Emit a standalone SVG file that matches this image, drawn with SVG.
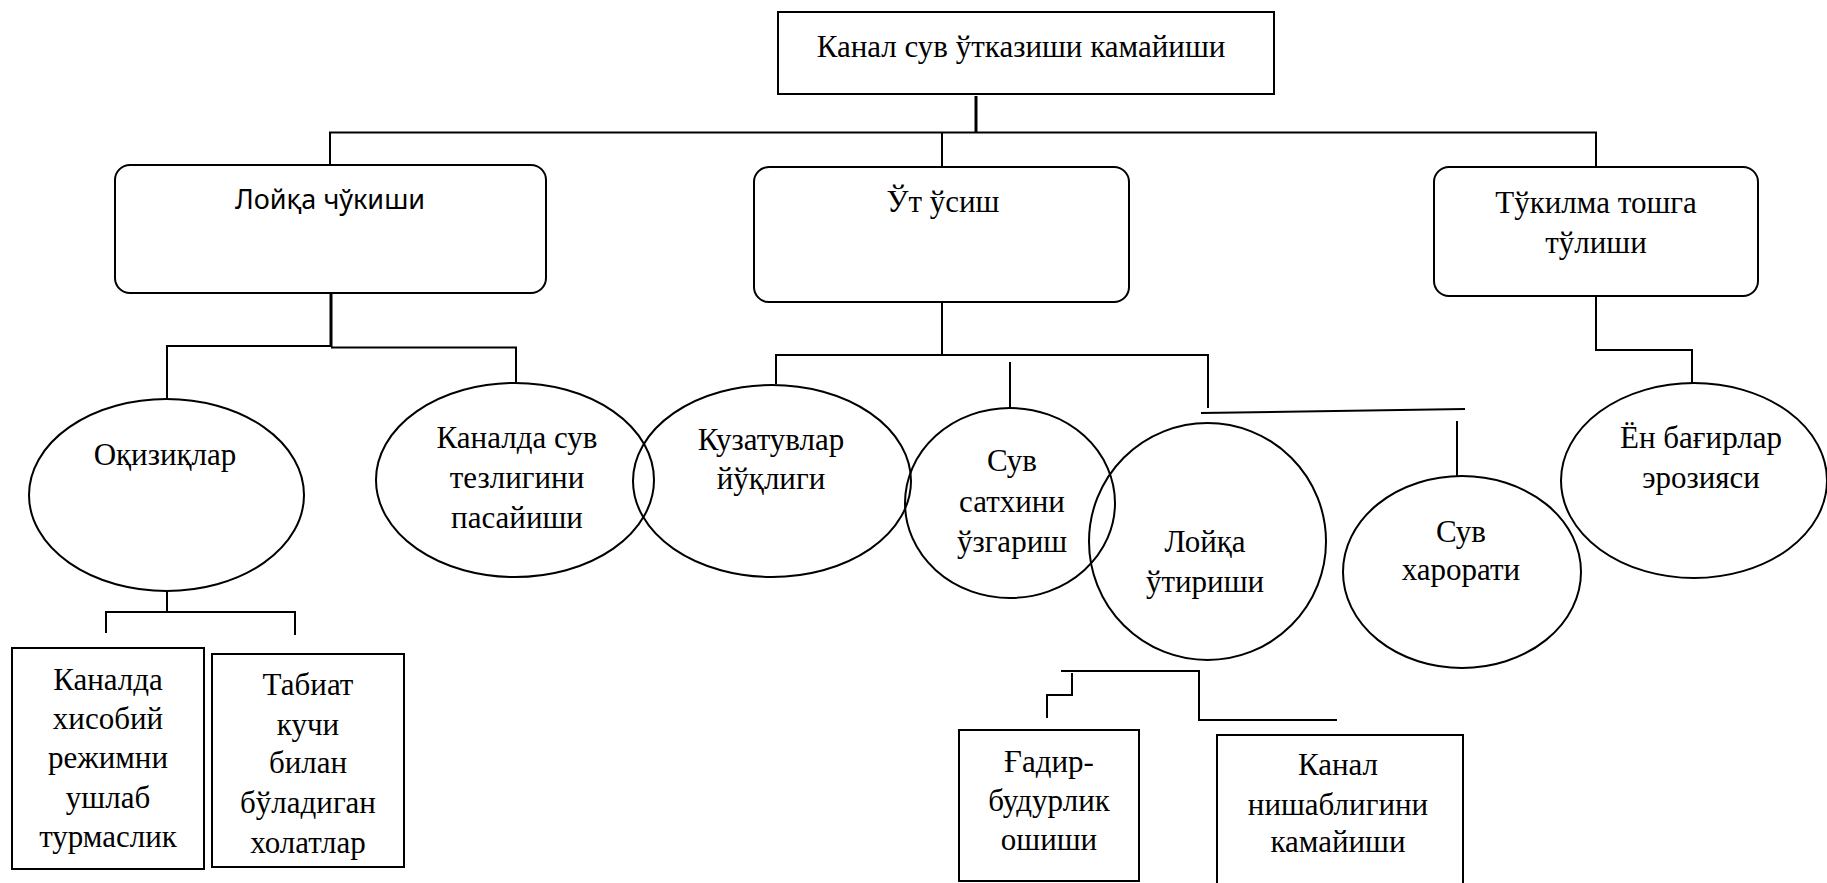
<svg xmlns="http://www.w3.org/2000/svg" width="1827" height="883" viewBox="0 0 1827 883">
<style>
.b{fill:#fff;stroke:#000;stroke-width:2}
.e{fill:none;stroke:#000;stroke-width:2}
.c{fill:none;stroke:#000;stroke-width:2}
.k{fill:none;stroke:#000;stroke-width:3}
text{fill:#000;text-anchor:middle}
</style>
<rect width="1827" height="883" fill="#fff"/>
<g id="connectors">
<path class="k" d="M976 96V133"/>
<path class="c" d="M330 165V132.5H1596V167M942 132.5V167"/>
<path class="k" d="M331 293V347"/>
<path class="c" d="M167 399V346H331M331 347.5H516V382"/>
<path class="c" d="M167 591V612M106 633V612H295V635"/>
<path class="c" d="M942 302V355M776 384V355H1208V408"/>
<path class="c" d="M1010 362V408"/>
<path class="c" d="M1201 413L1465 409"/>
<path class="c" d="M1457 421V476"/>
<path class="c" d="M1596 296V350H1692V383"/>
<path class="c" d="M1061 671H1199V720H1337"/>
<path class="c" d="M1072 673V695H1047V718"/>
</g>
<g font-family="'Liberation Serif', 'DejaVu Serif', 'Times New Roman', serif" font-size="31">
<g id="n-top">
<rect class="b" x="778" y="12" width="496" height="82"/>
<text x="1021" y="57">Канал сув ўтказиши камайиши</text>
</g>
<g id="n-loyqa-chukishi">
<rect class="b" x="115" y="165" width="431" height="128" rx="15"/>
<text x="330" y="209" font-family="'Noto Sans', 'Open Sans', sans-serif" font-size="27">Лойқа чўкиши</text>
</g>
<g id="n-ut-usish">
<rect class="b" x="754" y="167" width="375" height="135" rx="15"/>
<text x="943" y="212">Ўт ўсиш</text>
</g>
<g id="n-tukilma">
<rect class="b" x="1434" y="167" width="324" height="129" rx="15"/>
<text x="1596" y="213">Тўкилма тошга</text>
<text x="1596" y="253">тўлиши</text>
</g>
<g id="n-oqiziqlar">
<ellipse class="e" cx="166.5" cy="495" rx="137.5" ry="96"/>
<text x="165" y="465">Оқизиқлар</text>
</g>
<g id="n-tezlik">
<ellipse class="e" cx="515" cy="480" rx="139" ry="97"/>
<text x="517" y="448">Каналда сув</text>
<text x="517" y="488">тезлигини</text>
<text x="517" y="528">пасайиши</text>
</g>
<g id="n-kuzatuv">
<ellipse class="e" cx="772" cy="481" rx="139" ry="96"/>
<text x="771" y="450">Кузатувлар</text>
<text x="771" y="489">йўқлиги</text>
</g>
<g id="n-satx">
<ellipse class="e" cx="1010" cy="503" rx="105" ry="95"/>
<text x="1012" y="471">Сув</text>
<text x="1012" y="512">сатхини</text>
<text x="1012" y="552">ўзгариш</text>
</g>
<g id="n-utirishi">
<ellipse class="e" cx="1207.5" cy="541.5" rx="118.5" ry="118.5"/>
<text x="1205" y="552">Лойқа</text>
<text x="1205" y="592">ўтириши</text>
</g>
<g id="n-harorat">
<ellipse class="e" cx="1462" cy="572" rx="119" ry="96"/>
<text x="1461" y="542">Сув</text>
<text x="1461" y="580">харорати</text>
</g>
<g id="n-eroziya">
<ellipse class="e" cx="1694" cy="480.5" rx="133" ry="97.5"/>
<text x="1701" y="448">Ён бағирлар</text>
<text x="1701" y="488">эрозияси</text>
</g>
<g id="n-rejim">
<rect class="b" x="12" y="648" width="192" height="221"/>
<text x="108" y="690">Каналда</text>
<text x="108" y="729">хисобий</text>
<text x="108" y="768">режимни</text>
<text x="108" y="808">ушлаб</text>
<text x="108" y="847">турмаслик</text>
</g>
<g id="n-tabiat">
<rect class="b" x="212" y="654" width="192" height="213"/>
<text x="308" y="695">Табиат</text>
<text x="308" y="735">кучи</text>
<text x="308" y="773">билан</text>
<text x="308" y="813">бўладиган</text>
<text x="308" y="853">холатлар</text>
</g>
<g id="n-gadir">
<rect class="b" x="959" y="730" width="180" height="151"/>
<text x="1049" y="772">Ғадир-</text>
<text x="1049" y="811">будурлик</text>
<text x="1049" y="850">ошиши</text>
</g>
<g id="n-nishab">
<rect class="b" x="1217" y="735" width="246" height="160"/>
<text x="1338" y="775">Канал</text>
<text x="1338" y="815">нишаблигини</text>
<text x="1338" y="852">камайиши</text>
</g>
</g>
</svg>
